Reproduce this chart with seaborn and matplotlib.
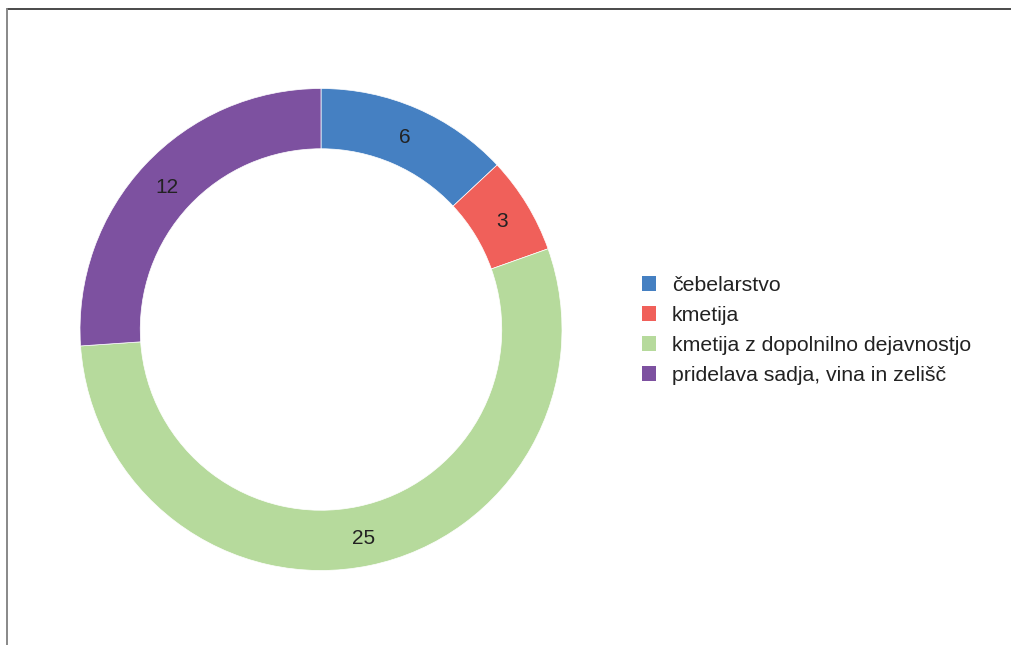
import matplotlib
matplotlib.use("Agg")
import matplotlib.pyplot as plt
from matplotlib.patches import Patch
from matplotlib.lines import Line2D
import seaborn as sns

categories = ["čebelarstvo", "kmetija", "kmetija z dopolnilno dejavnostjo",
              "pridelava sadja, vina in zelišč"]
counts = [6, 3, 25, 12]
colors = ["#4580C2", "#F0605A", "#B6DA9C", "#7D51A0"]

sns.set_theme(style="white")
plt.rcParams["font.family"] = ["Liberation Sans", "DejaVu Sans"]

W, H = 1011, 645
fig = plt.figure(figsize=(W / 100, H / 100), dpi=100)
fig.patch.set_facecolor("white")

# ring centred at (321, 329.5) px with outer radius 241 px
cx, cy, r = 321, 329.5, 241
ax = fig.add_axes([(cx - r) / W, (H - cy - r) / H, 2 * r / W, 2 * r / H])

total = sum(counts)
wedges, texts, autotexts = ax.pie(
    counts,
    colors=colors,
    startangle=90,
    counterclock=False,
    radius=1.0,
    wedgeprops=dict(width=0.25, edgecolor="white", linewidth=0.5),
    autopct=lambda p: f"{round(p * total / 100)}",
    pctdistance=0.877,
    textprops=dict(fontsize=15, color="#222222"),
)
for t in autotexts:
    t.set_verticalalignment("center_baseline")
ax.set_xlim(-1, 1)
ax.set_ylim(-1, 1)
ax.set_aspect("equal")
ax.axis("off")

handles = [Patch(facecolor=c, edgecolor="none") for c in colors]
fig.legend(
    handles, categories,
    loc="center left",
    bbox_to_anchor=(641.5 / W, 1 - 330.5 / H),
    frameon=False,
    fontsize=15.35,
    handlelength=0.67,
    handleheight=0.67,
    handletextpad=0.75,
    labelspacing=0.52,
    borderaxespad=0,
    borderpad=0,
    labelcolor="#222222",
)

# frame lines along the top and left edges
fig.add_artist(Line2D([7 / W, 1], [1 - 8.5 / H, 1 - 8.5 / H],
                      transform=fig.transFigure, color="#4a4a4a", linewidth=1.4))
fig.add_artist(Line2D([7 / W, 7 / W], [0, 1 - 8.5 / H],
                      transform=fig.transFigure, color="#888888", linewidth=1.4))

fig.savefig("out.png", dpi=100, facecolor="white")
